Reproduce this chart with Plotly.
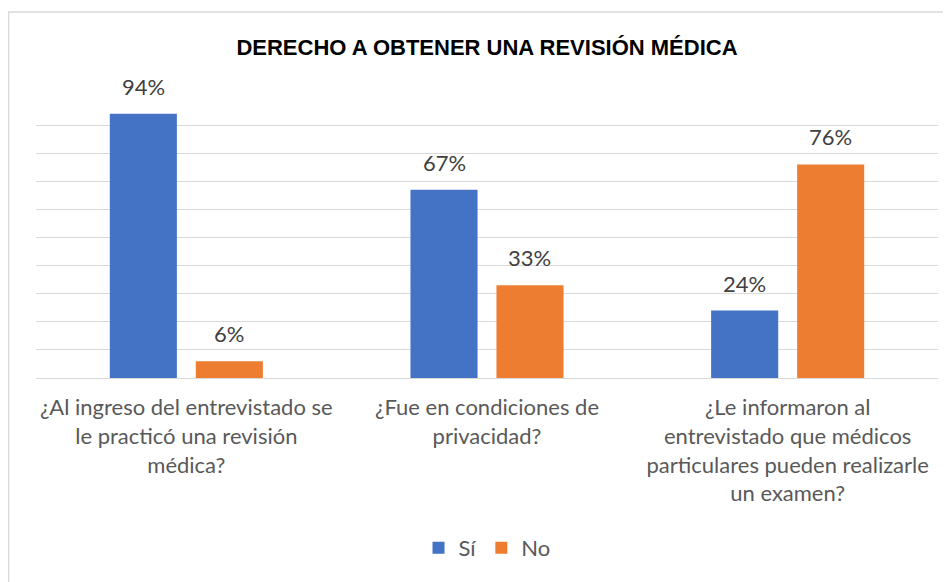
import plotly.graph_objects as go

categories = [
    "¿Al ingreso del entrevistado se<br>le practicó una revisión<br>médica?",
    "¿Fue en condiciones de<br>privacidad?",
    "¿Le informaron al<br>entrevistado que médicos<br>particulares pueden realizarle<br>un examen?",
]
si_values = [94, 67, 24]
no_values = [6, 33, 76]
series_names = ["Sí", "No"]
colors = ["#4472C4", "#ED7D31"]
title_text = "DERECHO A OBTENER UNA REVISIÓN MÉDICA"

FONT = "Lato, 'Open Sans', sans-serif"
label_font = dict(family=FONT, size=22, color="#404040")
tick_font = dict(family=FONT, size=22, color="#595959")

# page body has an ~8px offset; the figure is sized to fill the rest of the window
W, H = 943, 574
L, R, T, B = 28, 13, 89, 204
pw, ph = W - L - R, H - T - B

fig = go.Figure()
for name, vals, col in zip(series_names, [si_values, no_values], colors):
    fig.add_trace(go.Bar(
        x=categories, y=vals, name=name, marker=dict(color=col, line=dict(width=0)),
    ))

# data labels placed above each bar
slot_px = pw / len(categories) * (1 - 0.428) / 2
annotations = []
for i, vals in enumerate([si_values, no_values]):
    shift = (i - 0.5) * slot_px
    for c, v in zip(categories, vals):
        annotations.append(dict(
            x=c, y=v, xref="x", yref="y", text=f"{v}%", showarrow=False,
            xanchor="center", yanchor="bottom", xshift=shift, yshift=12,
            font=label_font,
        ))

fig.update_layout(
    width=W, height=H,
    margin=dict(l=L, r=R, t=T, b=B, autoexpand=False),
    paper_bgcolor="white", plot_bgcolor="white",
    barmode="group", bargap=0.428, bargroupgap=0.22,
    title=dict(text=f"<b>{title_text}</b>", x=(L + pw / 2) / W, xanchor="center",
               y=1 - 39 / H, yanchor="middle",
               font=dict(family="'Liberation Sans', Arial, sans-serif", size=22, color="black")),
    xaxis=dict(showgrid=False, showline=True, linecolor="#d9d9d9", linewidth=1,
               ticks="", tickfont=tick_font, tickangle=0, ticklabelstandoff=10),
    yaxis=dict(range=[0, 100], dtick=10, showticklabels=False, showgrid=True,
               gridcolor="#d9d9d9", gridwidth=1, zeroline=False, showline=False),
    legend=dict(orientation="h", x=0.5, xanchor="center", y=(T + ph - 540) / ph, yanchor="middle",
                font=tick_font, bgcolor="rgba(0,0,0,0)", traceorder="normal"),
    annotations=annotations,
    shapes=[dict(type="rect", xref="paper", yref="paper",
                 x0=(0.5 - L) / pw, x1=2, y0=-2, y1=(T + ph - 4) / ph,
                 line=dict(color="#d9d9d9", width=1.5), fillcolor="rgba(0,0,0,0)", layer="below")],
    showlegend=True,
)

fig.write_html("out.html")
